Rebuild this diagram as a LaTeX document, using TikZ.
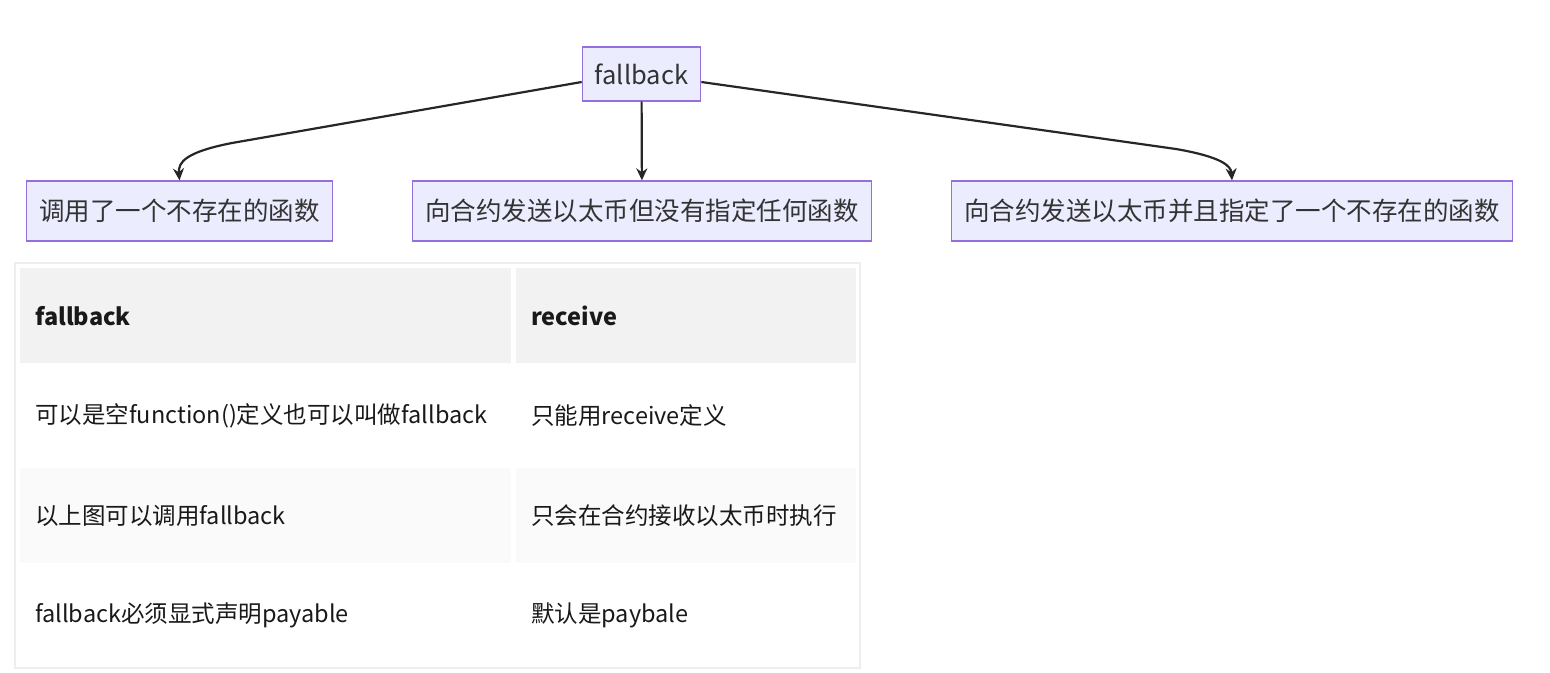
\documentclass[tikz,border=0pt]{standalone}
\usepackage{fontspec}
\setmainfont{Noto Sans CJK SC}
\usepackage{tikz}
\usetikzlibrary{positioning,arrows.meta}

\definecolor{boxfill}{HTML}{ECECFF}
\definecolor{boxline}{HTML}{9370DB}
\definecolor{inktext}{HTML}{333333}
\definecolor{headfill}{HTML}{F2F2F2}
\definecolor{oddfill}{HTML}{FAFAFA}
\definecolor{gridline}{HTML}{EEEEEE}

\begin{document}
\begin{tikzpicture}[
  x=1pt, y=-1pt, >={Stealth[length=12pt,width=11pt]},
  case/.style={draw=boxline, line width=1.3pt, fill=boxfill, text=inktext,
               font=\fontsize{25.5}{30}\selectfont, minimum height=60pt, inner xsep=12.5pt},
  cell/.style={anchor=north west, minimum height=95pt, inner xsep=15pt, inner ysep=0pt,
               text=black!90, font=\fontsize{23.5}{28}\selectfont, align=left},
  arr/.style={->, line width=2.2pt, color=black!85},
]
\useasboundingbox (0,0) rectangle (1550,672);

% flowchart
\node[case, minimum height=54pt] (top) at (641.5,74) {fallback};
\node[case] (b1) at (179.5,211) {调用了一个不存在的函数};
\node[case] (b2) at (642,211)   {向合约发送以太币但没有指定任何函数};
\node[case] (b3) at (1232,211)  {向合约发送以太币并且指定了一个不存在的函数};

\draw[arr] ([yshift=-8pt]top.west) -- (232,143) .. controls (186,152) and (178,162) .. (b1.north);
\draw[arr] (top) -- (b2);
\draw[arr] ([yshift=-8pt]top.east) -- (1176,149) .. controls (1222,157) and (1231,166) .. (b3.north);

% table
\draw[gridline, line width=2pt] (15,263) rectangle (860,668);
\node[cell, fill=headfill, text width=461pt, font=\fontsize{23.5}{28}\selectfont\bfseries] (h1) at (20,268) {fallback};
\node[cell, fill=headfill, text width=310pt, font=\fontsize{23.5}{28}\selectfont\bfseries] (h2) at (516,268) {receive};
\node[cell, text width=461pt] (r1a) at (20,368) {可以是空function()定义也可以叫做fallback};
\node[cell, text width=310pt] (r1b) at (516,368) {只能用receive定义};
\node[cell, fill=oddfill, text width=461pt] (r2a) at (20,468) {以上图可以调用fallback};
\node[cell, fill=oddfill, text width=310pt] (r2b) at (516,468) {只会在合约接收以太币时执行};
\node[cell, text width=461pt] (r3a) at (20,568) {fallback必须显式声明payable};
\node[cell, text width=310pt] (r3b) at (516,568) {默认是paybale};
\end{tikzpicture}
\end{document}
